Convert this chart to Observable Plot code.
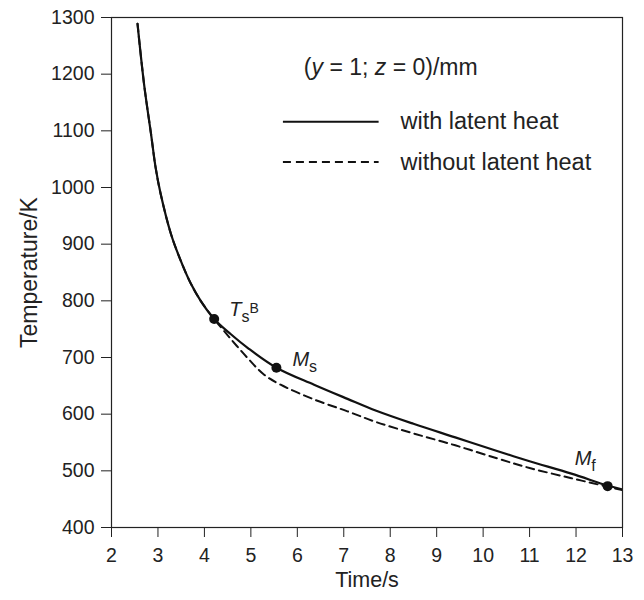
<!DOCTYPE html>
<html><head><meta charset="utf-8">
<script src="https://cdn.jsdelivr.net/npm/d3@7"></script>
<script src="https://cdn.jsdelivr.net/npm/@observablehq/plot@0.6"></script>
<style>body{margin:0;background:#fff;}</style>
</head><body><div id="chart"></div>
<script>
// Data
const timeWith = [2.56,2.70,2.85,2.95,3.06,3.28,3.49,3.71,3.92,4.21,4.57,4.93,5.55,6.36,7.08,7.70,8.50,9.40,10.30,11.00,11.90,12.68,13.00];
const tempWith = [1289,1183,1095,1035,988,918,871,830,800,768,741,717,682,652,627,606,583,559,535,517,495,474,467];
const timeWithout = [2.56,2.70,2.85,2.95,3.06,3.28,3.49,3.71,3.92,4.21,4.42,4.93,5.28,5.64,6.36,7.08,7.70,8.50,9.40,10.30,11.00,11.90,12.68,13.00];
const tempWithout = [1289,1183,1095,1035,988,918,871,830,800,768,747,699,670,652,626,605,586,566,545,522,505,487,472,466];
const pointTime = [4.21, 5.55, 12.68];
const pointTemp = [768, 682, 473];
const pointLabels = [
  [["T","i"],["s","sub"],["B","sup"]],
  [["M","i"],["s","sub"]],
  [["M","i"],["f","sub"]]
];
const xTicks = [2,3,4,5,6,7,8,9,10,11,12,13];
const yTicks = [400,500,600,700,800,900,1000,1100,1200,1300];
const xLabel = "Time/s";
const yLabel = "Temperature/K";
const legendLabels = ["with latent heat","without latent heat"];
const legendTitle = [["(",""],["y","i"],[" = 1; ",""],["z","i"],[" = 0)/mm",""]];

const withData = timeWith.map((t,i)=>({t, T: tempWith[i]}));
const withoutData = timeWithout.map((t,i)=>({t, T: tempWithout[i]}));
const points = pointTime.map((t,i)=>({t, T: pointTemp[i], i}));
const labelOffsets = [{dx:15, dy:-9},{dx:16, dy:-8},{dx:-33, dy:-28}];

const legendY = [1116, 1045];
const legendItems = legendLabels.map((label,i)=>({label, y: legendY[i], x1:5.69, x2:7.75, tx:8.22}));

const joinParts = parts => parts.map(p=>p[0]).join("");
const ink = "#111";
const chart = Plot.plot({
  width: 644, height: 600,
  marginLeft: 111, marginRight: 22, marginTop: 17, marginBottom: 73,
  style: {fontFamily: "'Liberation Sans', Arial, sans-serif", fontSize: "19px", color: "#222", background: "#fff", overflow: "visible"},
  x: {domain: [2, 13]},
  y: {domain: [400, 1300]},
  marks: [
    Plot.frame({stroke: "#222", strokeWidth: 1.2}),
    Plot.axisX({ticks: xTicks, tickSize: 10, tickPadding: 11, tickFormat: d => String(d), label: null, fontSize: 19.5, stroke:"#222"}),
    Plot.axisY({ticks: yTicks, tickSize: 10, tickPadding: 7, tickFormat: d => String(d), label: null, fontSize: 19.5, stroke:"#222"}),
    Plot.text([yLabel], {frameAnchor: "left", text: d => d, rotate: -90, dx: -82, textAnchor: "middle", lineAnchor: "middle", fontSize: 23}),
    Plot.text([xLabel], {frameAnchor: "bottom", text: d => d, dy: 53, textAnchor: "middle", lineAnchor: "middle", fontSize: 21.5}),
    Plot.line(withoutData, {x: "t", y: "T", curve: "catmull-rom", stroke: ink, strokeWidth: 2, strokeDasharray: "8,5", clip: true}),
    Plot.line(withData, {x: "t", y: "T", curve: "catmull-rom", stroke: ink, strokeWidth: 2.2, clip: true}),
    Plot.dot(points, {x: "t", y: "T", r: 5, fill: ink, stroke: "none"}),
    Plot.text(points, {x: "t", y: "T", text: d => joinParts(pointLabels[d.i]), textAnchor: "start", fontSize: 20}),
    Plot.text([legendTitle], {x: 6.14, y: 1212, text: d => joinParts(d), textAnchor: "start", fontSize: 23}),
    Plot.link([legendItems[0]], {x1: "x1", x2: "x2", y1: "y", y2: "y", stroke: ink, strokeWidth: 2.2}),
    Plot.link([legendItems[1]], {x1: "x1", x2: "x2", y1: "y", y2: "y", stroke: ink, strokeWidth: 2.2, strokeDasharray: "8,5"}),
    Plot.text(legendItems, {x: "tx", y: "y", text: "label", textAnchor: "start", fontSize: 23.5})
  ]
});

function rich(el, parts) {
  el.textContent = "";
  let prev = "";
  parts.forEach(([txt, st]) => {
    const ts = document.createElementNS("http://www.w3.org/2000/svg", "tspan");
    ts.textContent = txt;
    if (st === "i") ts.setAttribute("font-style", "italic");
    if (st === "sub") { ts.setAttribute("font-size", "16"); ts.setAttribute("dy", "6"); }
    if (st === "sup") { ts.setAttribute("font-size", "14"); ts.setAttribute("dy", prev === "sub" ? "-9" : "-6"); }
    el.appendChild(ts);
    prev = st;
  });
}
const svg = chart.tagName.toLowerCase() === "svg" ? chart : chart.querySelector("svg");
const labelStrings = pointLabels.map(joinParts);
const titleString = joinParts(legendTitle);
svg.querySelectorAll("text").forEach(el => {
  const s = el.textContent;
  const i = labelStrings.indexOf(s);
  if (i >= 0 && el.children.length === 0) {
    rich(el, pointLabels[i]);
    const tr = el.getAttribute("transform") || "";
    el.setAttribute("transform", tr + ` translate(${labelOffsets[i].dx},${labelOffsets[i].dy})`);
  } else if (s === titleString) {
    rich(el, legendTitle);
  }
});
document.getElementById("chart").appendChild(chart);
</script>
</body></html>
